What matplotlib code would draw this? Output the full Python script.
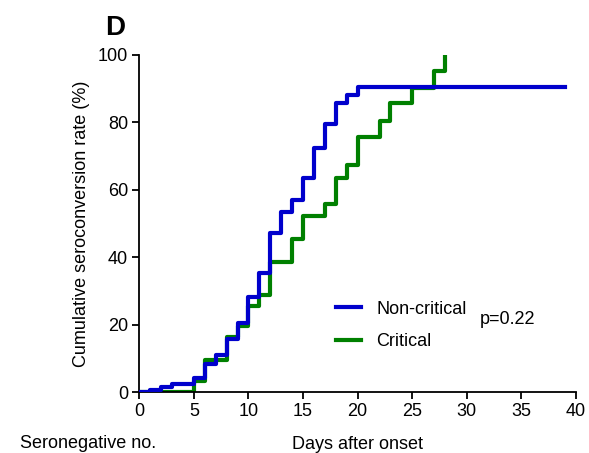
import numpy as np
import matplotlib
matplotlib.use("Agg")
import matplotlib.pyplot as plt

plt.rcParams['font.family'] = ['Liberation Sans', 'DejaVu Sans']

# step curves (day, cumulative %)
days_noncrit = [0, 1, 2, 3, 5, 6, 7, 8, 9, 10, 11, 12, 13, 14, 15, 16, 17, 18, 19, 20, 39]
rate_noncrit = [0, 0.8, 1.5, 2.4, 4.3, 8.3, 11.0, 15.9, 20.4, 28.1, 35.3, 47.1, 53.4, 56.9,
                63.4, 72.5, 79.5, 85.8, 88.1, 90.5, 90.5]

days_crit = [0, 5, 6, 8, 9, 10, 11, 12, 14, 15, 17, 18, 19, 20, 22, 23, 25, 27, 28]
rate_crit = [0, 3.2, 9.5, 16.4, 19.5, 25.6, 28.8, 38.7, 45.5, 52.3, 55.8, 63.4, 67.3,
             75.6, 80.5, 85.6, 90.1, 95.3, 100]

fig = plt.figure(figsize=(5.89, 4.53), dpi=100)
ax = fig.add_axes([0.2365, 0.134, 0.7415, 0.745])

ax.step(days_noncrit, rate_noncrit, where='post', color='#0000cc', lw=3,
        label='Non-critical', zorder=3)
ax.step(days_crit, rate_crit, where='post', color='#008000', lw=3, label='Critical', zorder=2)

ax.set_xlim(0, 40)
ax.set_ylim(0, 100)
ax.set_xticks(np.arange(0, 41, 5))
ax.set_yticks(np.arange(0, 101, 20))
ax.spines['top'].set_visible(False)
ax.spines['right'].set_visible(False)
ax.spines['left'].set_linewidth(1.3)
ax.spines['bottom'].set_linewidth(1.3)
ax.tick_params(direction='out', length=5, width=1.3, labelsize=13, pad=3)

ax.set_xlabel('Days after onset', fontsize=13, labelpad=11)
ax.set_ylabel('Cumulative seroconversion rate (%)', fontsize=13, labelpad=6)

ax.legend(loc='upper left', bbox_to_anchor=(0.45, 0.272), frameon=False, fontsize=13,
          handlelength=1.4, handletextpad=0.85, labelspacing=0.85,
          borderpad=0, borderaxespad=0)
ax.text(0.78, 0.217, 'p=0.22', transform=ax.transAxes, fontsize=13, va='center')

fig.text(0.178, 0.9227, 'D', fontsize=20, fontweight='bold', va='baseline')
fig.text(0.034, 0.011, 'Seronegative no.', fontsize=13, va='baseline')

fig.savefig('out.png', dpi=100)
